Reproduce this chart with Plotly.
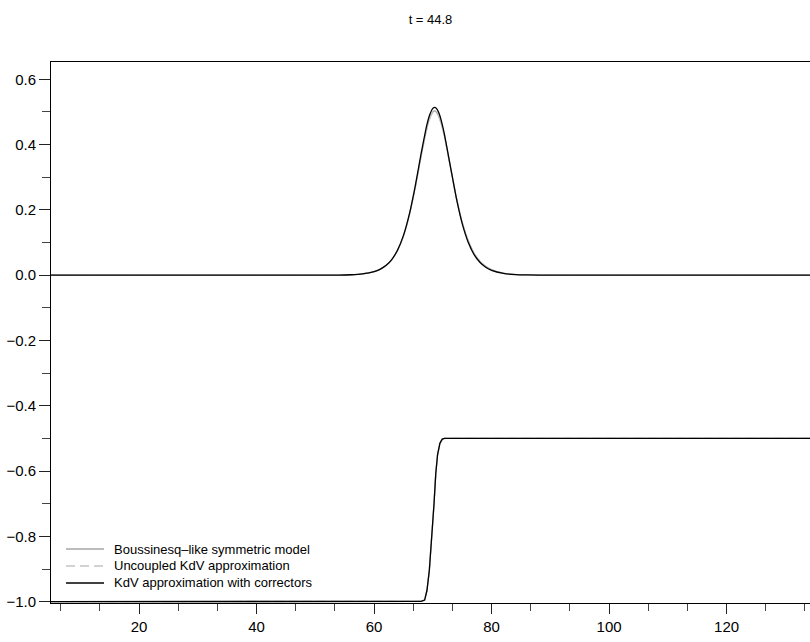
import plotly.graph_objects as go

# wave profiles at t = 44.8
x_wave = [5, 40, 50, 54, 56, 58, 60, 61, 62, 63, 64, 65, 66, 67, 68, 69, 69.5, 70, 70.3, 70.6,
          71, 71.5, 72, 73, 74, 75, 76, 77, 78, 79, 80, 82, 84, 86, 90, 100, 134.2]
eta_bous = [0, 0, 0.0001, 0.0005, 0.0014, 0.004, 0.0108, 0.018, 0.029, 0.047, 0.076, 0.120,
            0.184, 0.268, 0.365, 0.452, 0.483, 0.500, 0.503, 0.500,
            0.488, 0.460, 0.424, 0.331, 0.238, 0.162, 0.107, 0.068, 0.043, 0.027, 0.017, 0.0065,
            0.0025, 0.0009, 0.0002, 0, 0]
eta_kdv = [0, 0, 0.0001, 0.0005, 0.0014, 0.004, 0.0108, 0.018, 0.029, 0.047, 0.076, 0.120,
           0.184, 0.268, 0.364, 0.450, 0.481, 0.498, 0.500, 0.497,
           0.486, 0.458, 0.422, 0.330, 0.237, 0.161, 0.106, 0.067, 0.042, 0.026, 0.016, 0.006,
           0.0023, 0.0008, 0.0002, 0, 0]
eta_corr = [0, 0, 0.0001, 0.0005, 0.0014, 0.004, 0.0109, 0.018, 0.0295, 0.048, 0.0774, 0.122,
            0.187, 0.273, 0.372, 0.462, 0.493, 0.511, 0.514, 0.511,
            0.498, 0.469, 0.429, 0.332, 0.236, 0.158, 0.102, 0.064, 0.0395, 0.0242, 0.0147, 0.0054,
            0.0019, 0.0007, 0.0001, 0, 0]

x_step = [5, 66, 67, 68, 68.6, 69.0, 69.4, 69.8, 70.2, 70.5, 70.8, 71.2, 71.6, 72, 73, 134.2]
u_step = [-1, -1, -1, -0.999, -0.995, -0.965, -0.904, -0.812, -0.70, -0.607, -0.55,
          -0.515, -0.502, -0.5, -0.5, -0.5]

names = ["Boussinesq\u2013like symmetric model", "Uncoupled KdV approximation",
         "KdV approximation with correctors"]
colors = ["#a6a6a6", "#c4c4c4", "#000000"]
dashes = ["solid", "9px,5px", "solid"]
profiles = [eta_bous, eta_kdv, eta_corr]

fig = go.Figure()
for name, col, dash, eta in zip(names, colors, dashes, profiles):
    fig.add_trace(go.Scatter(x=x_wave, y=eta, mode="lines", name=name,
                             line=dict(color=col, width=1.3, dash=dash, shape="spline", smoothing=0.6),
                             showlegend=False))
    fig.add_trace(go.Scatter(x=x_step, y=u_step, mode="lines", name=name,
                             line=dict(color=col, width=1.3, dash=dash),
                             showlegend=False))

# legend drawn by hand so the rows sit as tight as in the original
leg_y = [0.0998, 0.0684, 0.037]
for name, col, dash, yy in zip(names, colors, dashes, leg_y):
    fig.add_shape(type="line", xref="paper", yref="paper", x0=0.0198, x1=0.0698, y0=yy, y1=yy,
                  line=dict(color=col, width=1.3, dash=dash))
    fig.add_annotation(text=name, xref="paper", yref="paper", x=0.0804, y=yy,
                       xanchor="left", yanchor="middle", showarrow=False,
                       font=dict(size=13, color="black"))

fig.update_layout(
    width=810, height=642,
    margin=dict(l=51, r=0, t=62, b=39),
    paper_bgcolor="white", plot_bgcolor="white",
    font=dict(family="Liberation Sans, Arial, sans-serif", size=15, color="black"),
    title=dict(text="t = 44.8", x=0.5, xref="paper", y=1 - 19 / 642, yref="container",
               yanchor="middle", font=dict(size=13)),
)
fig.update_xaxes(range=[5, 134.2], showgrid=False, zeroline=False,
                 showline=True, linecolor="black", linewidth=1, mirror=True,
                 ticks="outside", ticklen=10, tickcolor="#222", tick0=0, dtick=20,
                 minor=dict(ticks="outside", ticklen=7, tickcolor="#444", tick0=0, dtick=20 / 3))
fig.update_yaxes(range=[-1.004, 0.653], showgrid=False, zeroline=False,
                 showline=True, linecolor="black", linewidth=1, mirror=False,
                 ticks="outside", ticklen=11, tickcolor="#222", tick0=0, dtick=0.2,
                 tickformat=".1f",
                 minor=dict(ticks="outside", ticklen=8, tickcolor="#444", tick0=0, dtick=0.1))

# the page body has a default 8px margin; drop it so the figure fills the window
fig.write_html("out.html", config={"displayModeBar": False},
               post_script="document.body.style.margin='0';")
